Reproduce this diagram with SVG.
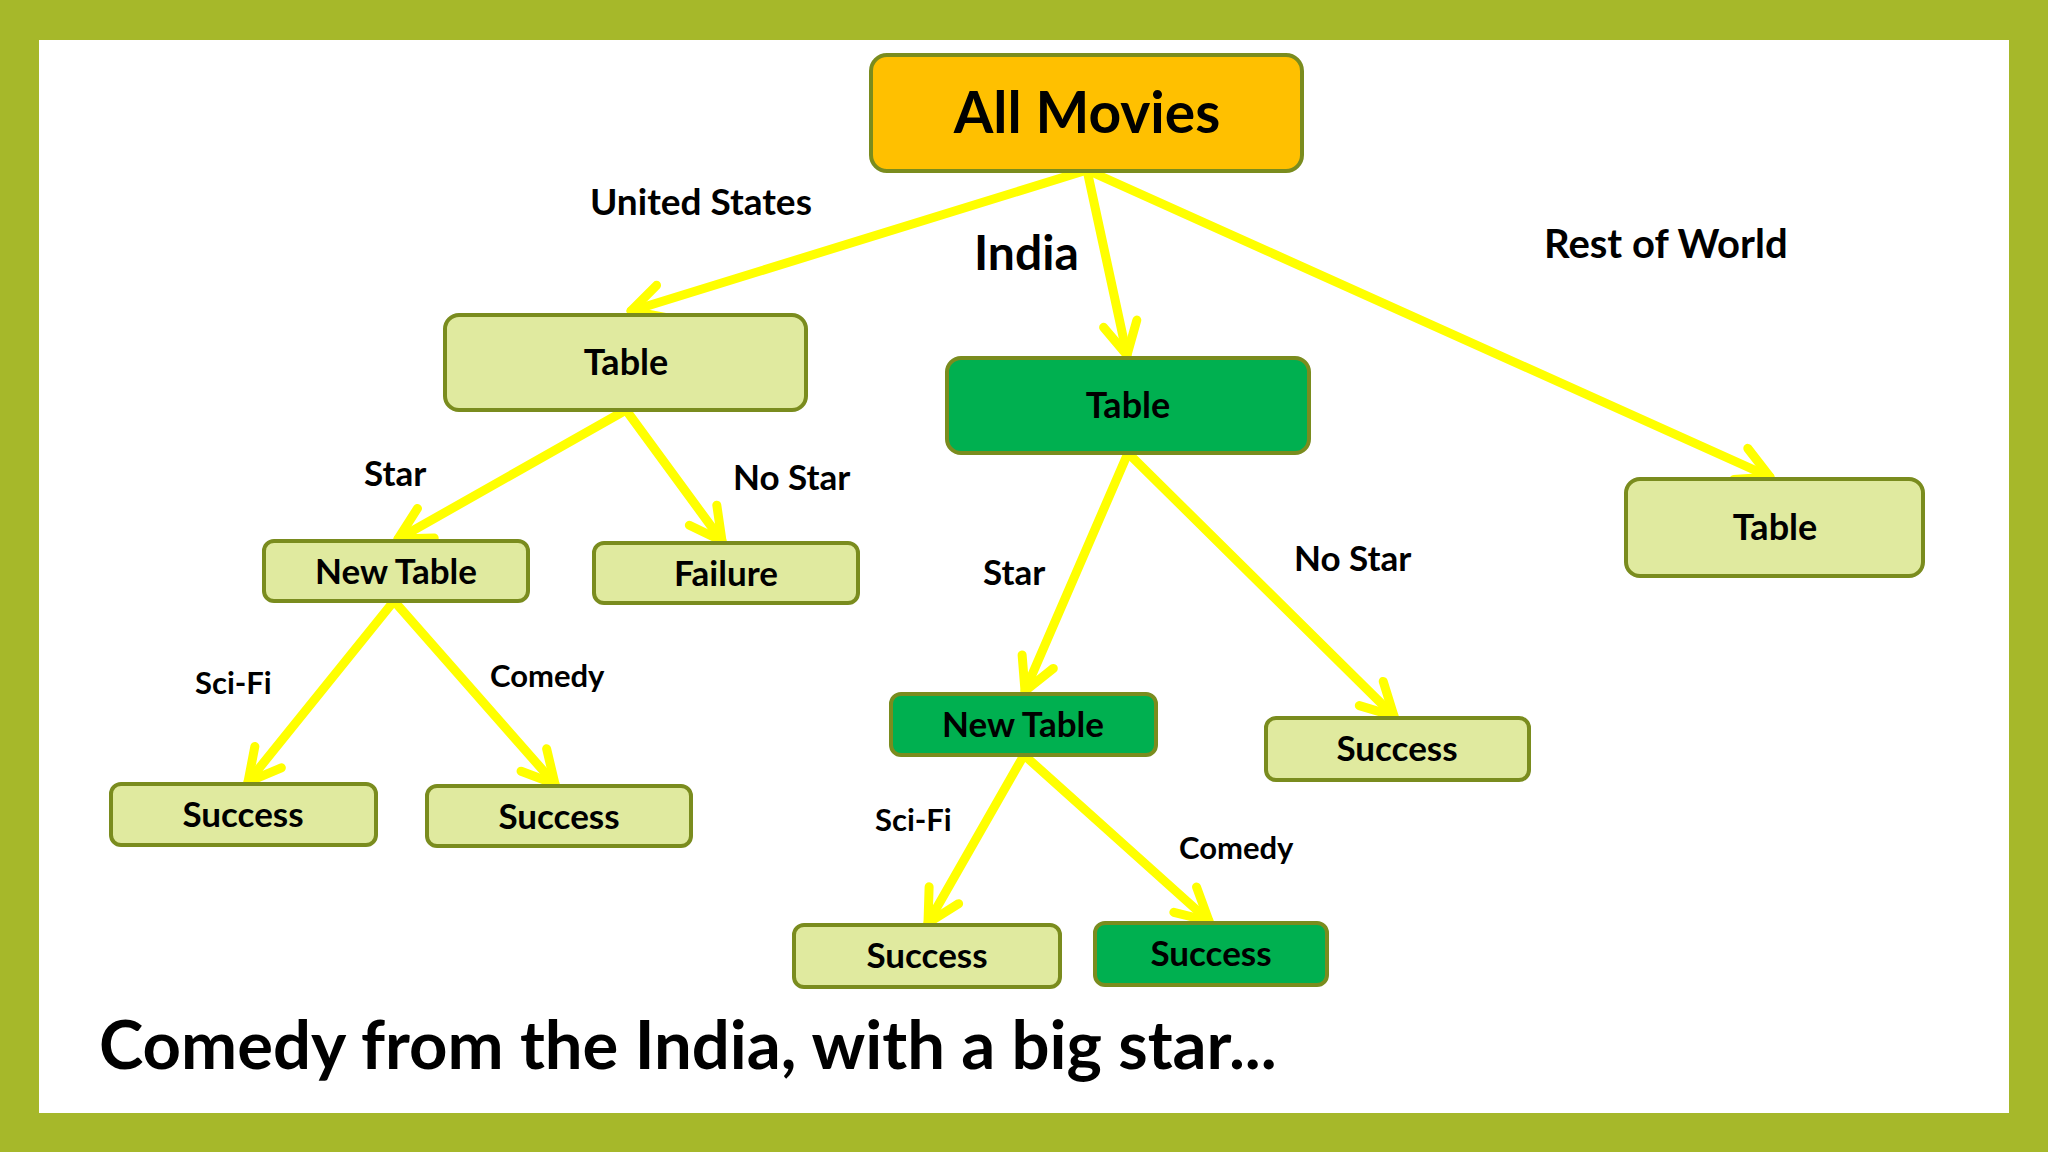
<svg xmlns="http://www.w3.org/2000/svg" width="2048" height="1152" viewBox="0 0 2048 1152">
  <style>
    .frame { fill: #A6B82A; }
    .light rect { fill: #E0EA9F; stroke: #7A8C1E; stroke-width: 4; }
    .dark rect { fill: #00B050; stroke: #7A8C1E; stroke-width: 4; }
    .root rect { fill: #FFC000; stroke: #7A8C1E; stroke-width: 4; }
    .node text { font-family: Lato, "Liberation Sans", sans-serif; font-weight: bold; fill: #000; text-anchor: middle; }
    .lbl { font-family: Lato, "Liberation Sans", sans-serif; font-weight: bold; fill: #000; }
    .conn line { stroke: #FFFF00; stroke-width: 9; stroke-linecap: round; marker-end: url(#arr); }
  </style>
  <defs>
    <marker id="arr" markerUnits="userSpaceOnUse" viewBox="-50 -30 60 60" markerWidth="60" markerHeight="60" refX="0" refY="0" orient="auto" overflow="visible">
      <path d="M -32 -17 L 0 0 L -32 17" fill="none" stroke="#FFFF00" stroke-width="9" stroke-linecap="round" stroke-linejoin="round"/>
    </marker>
  </defs>

  <rect class="frame" x="0" y="0" width="2048" height="1152"/>
  <rect x="39" y="40" width="1970" height="1073" fill="#FFFFFF"/>

  <g id="connectors" class="conn">
    <line x1="1087" y1="170" x2="631" y2="311"/>
    <line x1="1087" y1="170" x2="1127" y2="355"/>
    <line x1="1087" y1="170" x2="1770" y2="477"/>
    <line x1="626" y1="410" x2="398" y2="539"/>
    <line x1="626" y1="410" x2="722" y2="541"/>
    <line x1="394" y1="601" x2="248" y2="782"/>
    <line x1="394" y1="601" x2="555" y2="784"/>
    <line x1="1128" y1="453" x2="1025" y2="691"/>
    <line x1="1128" y1="453" x2="1394" y2="716"/>
    <line x1="1024" y1="755" x2="928" y2="923"/>
    <line x1="1024" y1="755" x2="1209" y2="921"/>
  </g>

  <g id="all-movies" class="node root">
    <rect x="871" y="55" width="431" height="116" rx="16"/>
    <text x="1087" y="133" font-size="57">All Movies</text>
  </g>
  <g id="table-us" class="node light">
    <rect x="445" y="315" width="361" height="95" rx="14"/>
    <text x="626" y="375" font-size="36">Table</text>
  </g>
  <g id="table-india" class="node dark">
    <rect x="947" y="358" width="362" height="95" rx="14"/>
    <text x="1128" y="418" font-size="36">Table</text>
  </g>
  <g id="table-row" class="node light">
    <rect x="1626" y="479" width="297" height="97" rx="14"/>
    <text x="1775" y="540" font-size="36">Table</text>
  </g>
  <g id="newtable-us" class="node light">
    <rect x="264" y="541" width="264" height="60" rx="10"/>
    <text x="396" y="584" font-size="35">New Table</text>
  </g>
  <g id="failure-us" class="node light">
    <rect x="594" y="543" width="264" height="60" rx="10"/>
    <text x="726" y="586" font-size="35">Failure</text>
  </g>
  <g id="success-us-scifi" class="node light">
    <rect x="111" y="784" width="265" height="61" rx="10"/>
    <text x="243" y="827" font-size="35">Success</text>
  </g>
  <g id="success-us-comedy" class="node light">
    <rect x="427" y="786" width="264" height="60" rx="10"/>
    <text x="559" y="829" font-size="35">Success</text>
  </g>
  <g id="newtable-india" class="node dark">
    <rect x="891" y="694" width="265" height="61" rx="10"/>
    <text x="1023" y="737" font-size="35">New Table</text>
  </g>
  <g id="success-india-nostar" class="node light">
    <rect x="1266" y="718" width="263" height="62" rx="10"/>
    <text x="1397" y="761" font-size="35">Success</text>
  </g>
  <g id="success-india-scifi" class="node light">
    <rect x="794" y="925" width="266" height="62" rx="10"/>
    <text x="927" y="968" font-size="35">Success</text>
  </g>
  <g id="success-india-comedy" class="node dark">
    <rect x="1095" y="923" width="232" height="62" rx="10"/>
    <text x="1211" y="966" font-size="35">Success</text>
  </g>

  <g id="labels">
    <text class="lbl" x="590" y="215" font-size="37">United States</text>
    <text class="lbl" x="974" y="270" font-size="48">India</text>
    <text class="lbl" x="1544" y="258" font-size="40">Rest of World</text>
    <text class="lbl" x="364" y="486" font-size="35">Star</text>
    <text class="lbl" x="733" y="490" font-size="35">No Star</text>
    <text class="lbl" x="195" y="694" font-size="31">Sci-Fi</text>
    <text class="lbl" x="490" y="687" font-size="31">Comedy</text>
    <text class="lbl" x="983" y="585" font-size="35">Star</text>
    <text class="lbl" x="1294" y="571" font-size="35">No Star</text>
    <text class="lbl" x="875" y="831" font-size="31">Sci-Fi</text>
    <text class="lbl" x="1179" y="859" font-size="31">Comedy</text>
    <text class="lbl" x="99" y="1069" font-size="67">Comedy from the India, with a big star...</text>
  </g>
</svg>
